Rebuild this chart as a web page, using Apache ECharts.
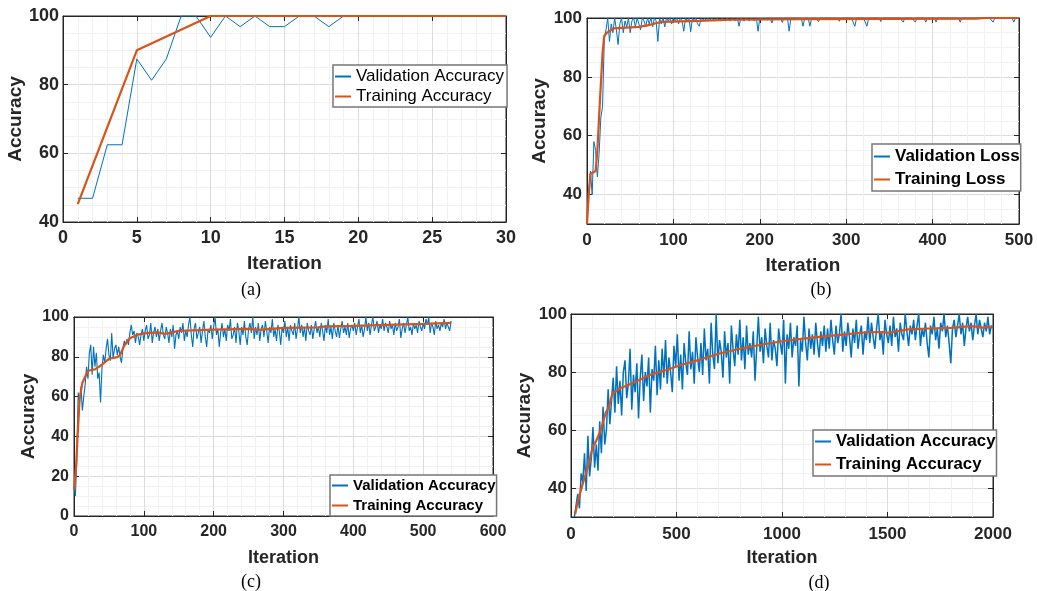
<!DOCTYPE html>
<html><head><meta charset="utf-8">
<script src="https://cdn.jsdelivr.net/npm/echarts@6/dist/echarts.min.js"></script>
<style>html,body{margin:0;padding:0;background:#fff}#c{width:1037px;height:591px}</style>
</head><body><div id="c"></div><script>
// ---------- DATA ----------
// (a)
const aIter = [1,2,3,4,5,6,7,8,9,10,11,12,13,14,15,16,17,18,19,20,21,22,23,24,25,26,27,28,29,30];
const aVal = [46.9,46.9,62.5,62.5,87.5,81.3,87.5,100,100,93.8,100,96.9,100,96.9,96.9,100,100,96.9,100,100,100,100,100,100,100,100,100,100,100,100];
const aTrainIter = [1,5,10,15,20,25,30];
const aTrain = [45.2,90,100,100,100,100,100];
// (b)
const bValStart = 0, bValStep = 2;
const bVal = [
 30,41,48,40,58,55,46,54,66,70,93,96,100,92,98,95,100,96,91,98,100,95,99,97,100,
 95,99,100,97,100,98,96,100,99,97,100,98,100,97,100,99,92,100,98,100,97,100,99,100,98,
 100,99,100,98,100,99,95.5,100,99,100,95.3,100,99,100,98,97.2,100,99,100,99,100,99,100,100,99,
 100,100,99,100,100,99,100,100,99,100,100,99,100,97.2,100,100,99,100,100,99,100,100,99,100,95.5,
 100,100,99.5,100,100,100,100,98.3,100,100,100,100,100,98.5,100,100,100,95.5,100,100,100,100,100,100,100,
 97.2,100,100,100,97.2,100,100,100,100,98.8,100,100,100,100,100,100,100,100,100,100,100,98.9,100,100,100,
 100,100,100,100,100,97.2,100,100,100,100,100,100,97.2,100,100,100,100,100,100,100,98.8,100,100,100,100,
 100,100,100,100,100,100,100,100,98.6,100,100,100,100,100,100,98.6,100,100,100,100,100,98.6,100,100,100,
 100,100,98.6,100,100,100,100,100,100,100,100,100,100,100,100,100,98.6,100,100,100,100,100,100,100,100,
 100,100,100,100,100,100,100,100,100,100,98.6,100,100,100,100,100,100,100,100,100,100,100,98.6,100,100,
 100];
const bTrainIter = [0,2,4,10,12,15,18,20,23,31,60,70,81,87,129,167,250,350,450,460,500];
const bTrain = [30,40,47,48,55,72,88,94,95,96.5,97,97.5,98.3,98.7,99,99.4,99.6,99.7,99.8,100,100];
// (c)
const cValStart = 0, cValStep = 2;
const cVal = [
 15,10,28,62,57,65,53,60,66,75,69,82,86,71,85,75,82,69,72,57,74,81,77,84,89,
 81,78,92,79,84,86,81,85,80,77,84,88,86,89,86,92,96,91,93,87,92,90,86,91,94,
 88,93,96,89,91,97,87,92,95,90,94,88,93,97,91,89,95,92,87,94,90,96,84,91,93,
 89,95,92,97,88,93,90,96,100,91,85,94,97,89,92,95,87,93,98,90,85,94,92,96,89,
 95,100,91,94,85,92,97,90,94,88,96,93,99,89,91,95,87,97,93,86,95,91,98,90,86,
 94,97,92,100,89,95,91,97,88,94,96,90,98,93,87,95,92,99,90,94,88,96,93,86,95,
 92,98,90,95,88,96,93,91,97,89,94,100,92,96,90,95,88,97,93,91,96,89,94,98,92,
 95,90,97,93,88,96,92,99,91,95,89,97,93,90,96,89.5,94,98,92,95,91,97,89.5,94,96,
 93,97,91,95,99,92,96,90,94,100,93,97,91,96,100,93,95,98,92,96,94,99,93,97,95,
 92,98,94,96,91,97,93,95,99,89.5,94,97,92,96,100,93,95,91,97,94,96,92,98,95,93,
 97,94,99,96,100,92,97,95,91,98,94,96,93,97,95,99,94,97,96,93,98];
const cTrainIter = [0,3,5,8,12,20,30,40,50,62,66,72,80,90,100,120,130,150,200,250,265,300,350,360,400,450,500,540];
const cTrain = [13,25,39,58.7,67,73,73.7,76,79,79.8,81,85.7,89.3,91,91.8,92.3,91.5,93,93.7,94,93.5,94.5,94.8,95.3,95.5,96,96.5,97];
// (d)
const dValStart = 16, dValStep = 8;
const dVal = [
 30,34,38,33,45,42,52,39,58,44,50,61,47,55,46,63,52,68,55,60,74,62,70,78,66,
 82,69,77,65,80,84,71,76,88,67,79,73,83,64,78,86,70,80,75,85,66,81,77,89,72,
 84,74,88,78,91,76,85,80,73,89,82,93,77,86,74,90,83,79,94,81,87,76,92,85,80,
 90,79,95,84,88,76,97,86,81,100,83,91,87,78,94,85,90,76,96,88,82,93,86,98,84,
 92,81,96,86,90,85,94,77,88,99,87,92,83,95,89,85,97,84,91,88,82,95,90,86,98,
 76,93,88,97,85,92,89,96,75,91,87,99,90,84,95,88,93,86,97,90,85,94,89,96,87,
 95,88,98,91,86,96,90,93,100,87,94,89,97,92,85,95,90,98,88,93,96,86,94,91,99,
 90,97,92,88,95,100,91,94,86,98,93,90,96,89,99,92,95,87,97,93,91,100,94,89,96,
 93,98,91,96,100,89,95,92,97,90,85,96,93,99,91,95,88,97,94,100,92,96,90,83,95,
 98,92,96,100,93,97,89,95,99,94,97,91,96,100,93,98,95,92,97,94,99,93,96,95];
const dTrainIter = [20,30,56,71,87,102,118,126,141,165,180,196,234,296,374,452,529,607,700,800,900,1000,1100,1200,1300,1400,1480,1500,1600,1700,1800,1900,1950,2000];
const dTrain = [31,34.7,41.6,45,49,54,56,55.5,60,66,68,72.6,74.4,76.3,79,80.7,82.6,84.2,86.3,88,89.4,90.6,91.5,92.3,93,93.7,93.8,93.5,94.7,95,95.2,95.8,95.3,95.7];
// tick labels / names
const xTitle = 'Iteration', yTitle = 'Accuracy';
const captions = ['(a)','(b)','(c)','(d)'];
const legendA = ['Validation Accuracy','Training Accuracy'];
const legendB = ['Validation Loss','Training Loss'];

// ---------- STYLE ----------
const FONT = '"Liberation Sans", Arial, Helvetica, sans-serif';
const SERIF = '"Liberation Serif", "Times New Roman", serif';
const AX = '#262626', GMAJ = '#dcdcdc', GMIN = '#f1f1f1';
const BLUE = '#0072BD', ORANGE = '#D95319';

const pairs = (xs, ys) => ys.map((v, i) => [xs[i], v]);
const stepPairs = (s, st, ys) => ys.map((v, i) => [s + i * st, v]);

const panels = [
 {box:[63,16,443,206], x:[0,30,5], y:[40,100,20], odd:false, tick:18, nm:19, xm:7, ym:4, xg:32, yg:35, bw:1,
  legend:{names:legendA, left:333, top:65, size:17, weight:'normal', gap:3, pad:[3,3,2,1]},
  cap:[251,290], val:pairs(aIter,aVal), tr:pairs(aTrainIter,aTrain)},
 {box:[587,18,432,206], x:[0,500,100], y:[30,100,20], odd:true, tick:17, nm:19, xm:8, ym:5, xg:32, yg:35, bw:1,
  legend:{names:legendB, left:872, top:144, size:17, weight:'bold', gap:6, pad:[4,1,3,1]},
  cap:[821,290], val:stepPairs(bValStart,bValStep,bVal), tr:pairs(bTrainIter,bTrain)},
 {box:[74,317,419,199], x:[0,600,100], y:[0,100,20], odd:false, tick:16, nm:18, xm:8, ym:5, xg:33, yg:35, bw:1.1,
  legend:{names:legendA, left:330, top:475, size:15, weight:'bold', gap:5, pad:[3,1,3,1]},
  cap:[251,582], val:stepPairs(cValStart,cValStep,cVal), tr:pairs(cTrainIter,cTrain)},
 {box:[571,314,422,203], x:[0,2000,500], y:[30,100,20], odd:true, tick:17, nm:18, xm:9, ym:4, xg:32, yg:32, bw:1.5,
  legend:{names:legendA, left:813, top:430, size:16.8, weight:'bold', gap:6, pad:[3,1,3,1]},
  cap:[819,583], val:stepPairs(dValStart,dValStep,dVal), tr:pairs(dTrainIter,dTrain)}
];

const grids=[], xAxes=[], yAxes=[], series=[], legends=[], graphics=[];
const majors = [40,60,80,100];
const noSep = v => String(v);
panels.forEach((p, gi) => {
  grids.push({left:p.box[0], top:p.box[1], width:p.box[2], height:p.box[3], show:true, borderColor:AX, borderWidth:1, backgroundColor:'#fff'});
  const xi = xAxes.length;
  xAxes.push({type:'value', gridIndex:gi, position:'bottom', min:p.x[0], max:p.x[1], interval:p.x[2],
    name:xTitle, nameLocation:'middle', nameGap:p.xg,
    nameTextStyle:{fontFamily:FONT, fontWeight:'bold', fontSize:p.nm, color:AX},
    axisLine:{show:true, onZero:false, lineStyle:{color:AX, width:1}},
    axisTick:{show:true, inside:true, length:5, lineStyle:{color:AX}},
    axisLabel:{margin:p.xm, fontFamily:FONT, fontWeight:'bold', fontSize:p.tick, color:AX, formatter:noSep},
    splitLine:{show:true, lineStyle:{color:GMAJ, width:1}},
    minorTick:{show:false, splitNumber:5},
    minorSplitLine:{show:true, lineStyle:{color:GMIN, width:1}}});
  xAxes.push({type:'value', gridIndex:gi, position:'top', min:p.x[0], max:p.x[1], interval:p.x[2],
    axisLine:{show:true, onZero:false, lineStyle:{color:AX, width:1}},
    axisTick:{show:true, inside:true, length:5, lineStyle:{color:AX}},
    axisLabel:{show:false}, splitLine:{show:false}});
  const yi = yAxes.length;
  const yName = {name:yTitle, nameLocation:'middle', nameGap:p.yg,
    nameTextStyle:{fontFamily:FONT, fontWeight:'bold', fontSize:19, color:AX}};
  if (!p.odd) {
    yAxes.push(Object.assign({type:'value', gridIndex:gi, position:'left', min:p.y[0], max:p.y[1], interval:p.y[2],
      axisLine:{show:true, onZero:false, lineStyle:{color:AX, width:1}},
      axisTick:{show:true, inside:true, length:5, lineStyle:{color:AX}},
      axisLabel:{margin:p.ym, fontFamily:FONT, fontWeight:'bold', fontSize:p.tick, color:AX},
      splitLine:{show:true, lineStyle:{color:GMAJ, width:1}},
      minorTick:{show:false, splitNumber:4},
      minorSplitLine:{show:true, lineStyle:{color:GMIN, width:1}}}, yName));
    yAxes.push({type:'value', gridIndex:gi, position:'right', min:p.y[0], max:p.y[1], interval:p.y[2],
      axisLine:{show:true, onZero:false, lineStyle:{color:AX, width:1}},
      axisTick:{show:true, inside:true, length:5, lineStyle:{color:AX}},
      axisLabel:{show:false}, splitLine:{show:false}});
  } else {
    yAxes.push(Object.assign({type:'value', gridIndex:gi, position:'left', min:p.y[0], max:p.y[1], interval:5,
      axisLine:{show:true, onZero:false, lineStyle:{color:AX, width:1}},
      axisTick:{show:false},
      axisLabel:{margin:p.ym, fontFamily:FONT, fontWeight:'bold', fontSize:p.tick, color:AX,
        formatter: v => (v % 20 === 0 ? String(v) : '')},
      splitLine:{show:true, lineStyle:{color:[GMIN,GMIN,GMAJ,GMIN], width:1}}}, yName));
    yAxes.push({type:'value', gridIndex:gi, position:'left', min:p.y[0], max:p.y[1], interval:5,
      axisLine:{show:false}, axisLabel:{show:false}, splitLine:{show:false},
      axisTick:{show:true, inside:true, length:5, customValues:majors, lineStyle:{color:AX}}});
    yAxes.push({type:'value', gridIndex:gi, position:'right', min:p.y[0], max:p.y[1], interval:5,
      axisLine:{show:true, onZero:false, lineStyle:{color:AX, width:1}},
      axisLabel:{show:false}, splitLine:{show:false},
      axisTick:{show:true, inside:true, length:5, customValues:majors, lineStyle:{color:AX}}});
  }
  series.push({type:'line', name:p.legend.names[0], xAxisIndex:xi, yAxisIndex:yi, data:p.val,
    symbol:'none', showSymbol:false, clip:true, color:BLUE, lineStyle:{color:BLUE, width:p.bw}, z:2});
  series.push({type:'line', name:p.legend.names[1], xAxisIndex:xi, yAxisIndex:yi, data:p.tr,
    symbol:'none', showSymbol:false, clip:true, color:ORANGE, lineStyle:{color:ORANGE, width:2.2}, z:3});
  const L = p.legend;
  legends.push({orient:'vertical', left:L.left, top:L.top, data:L.names, selectedMode:false,
    itemWidth:16, itemHeight:12, itemGap:L.gap, padding:L.pad,
    itemStyle:{opacity:0, color:'rgba(0,0,0,0)', borderWidth:0},
    borderColor:'#777', borderWidth:1.5, backgroundColor:'#fff',
    textStyle:{fontFamily:FONT, fontSize:L.size, fontWeight:L.weight, color:'#000'}});
  graphics.push({type:'text', x:p.cap[0], y:p.cap[1], style:{text:captions[gi], fontFamily:SERIF, fontSize:18,
    fill:'#000', align:'center', verticalAlign:'middle'}});
});

const chart = echarts.init(document.getElementById('c'), null, {renderer:'canvas'});
chart.setOption({animation:false, backgroundColor:'#fff', grid:grids, xAxis:xAxes, yAxis:yAxes,
  series:series, legend:legends, graphic:graphics});
</script></body></html>
